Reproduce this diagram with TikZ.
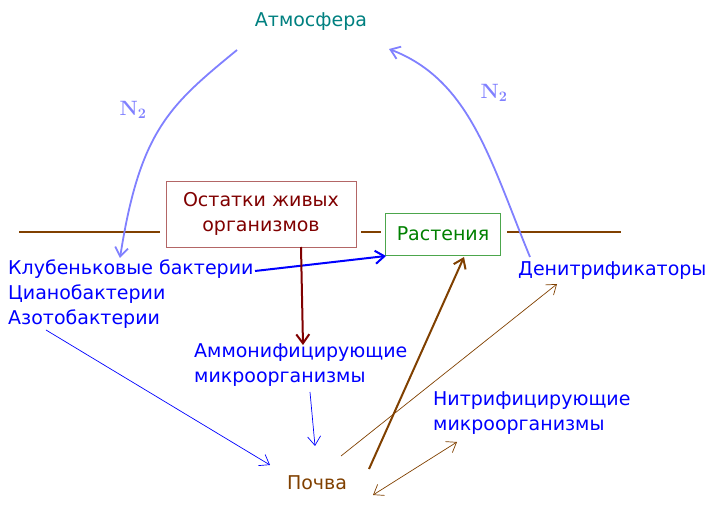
\documentclass[tikz,border=0pt]{standalone}
\usepackage[no-math]{fontspec}
\setmainfont{DejaVu Sans}
\usetikzlibrary{arrows.meta,positioning}
\definecolor{brn}{HTML}{804000}
\definecolor{drd}{HTML}{800000}
\definecolor{lbl}{HTML}{8080FF}
\definecolor{tea}{HTML}{008080}
\definecolor{grn}{HTML}{008000}
\begin{document}
\begin{tikzpicture}[x=1pt, y=-1pt, every node/.style={font=\fontsize{19}{25}\selectfont}, >={Straight Barb[length=9pt,width=13pt]}]
  \useasboundingbox (0,0) rectangle (713,521);

  % Labels
  \node (atm) [text=tea] at (311,22) {Атмосфера};
  \node (rem) [draw=drd!60, text=drd, align=center, minimum width=190pt, minimum height=66pt, inner sep=2pt] at (261,214) {Остатки живых\\организмов};
  \node (pl) [draw=grn!70, text=grn, minimum width=115pt, minimum height=42pt, inner sep=2pt] at (443,234) {Растения};
  \node (bact) [text=blue, align=left, anchor=north west, inner sep=0pt] at (8,260) {Клубеньковые бактерии\\Цианобактерии\\Азотобактерии};
  \node (den) [text=blue, anchor=west, inner sep=0pt] at (518,271) {Денитрификаторы};
  \node (amm) [text=blue, align=left, anchor=north west, inner sep=0pt] at (194,343) {Аммонифицирующие\\микроорганизмы};
  \node (nit) [text=blue, align=left, anchor=north west, inner sep=0pt] at (433,391) {Нитрифицирующие\\микроорганизмы};
  \node (soil) [text=brn] at (317,483) {Почва};
  \node (n2a) [text=lbl, font=\fontsize{22}{26}\selectfont] at (133,110) {$\mathbf{N_2}$};
  \node (n2b) [text=lbl, font=\fontsize{22}{26}\selectfont] at (494,93) {$\mathbf{N_2}$};

  % Ground line
  \draw[brn, line width=1.2pt] (19,232) -- (160,232);
  \draw[brn, line width=1.2pt] (361,232) -- (381,232);
  \draw[brn, line width=1.2pt] (507,232) -- (621,232);

  % Arrows
  \draw[->, lbl, line width=1.8pt] (237,50) .. controls (170,105) and (140,130) .. (120,258);
  \draw[->, lbl, line width=1.8pt] (530,257) .. controls (490,160) and (470,80) .. (389,49);
  \draw[->, blue, line width=2pt] (255,271) -- (386,256);
  \draw[->, drd, line width=2pt] (301,247) -- (303,345);
  \draw[->, blue, line width=0.7pt] (310,392) -- (315,446);
  \draw[->, blue, line width=0.7pt] (46,330) -- (270,465);
  \draw[->, brn, line width=0.7pt] (341,456) -- (557,284);
  \draw[->, brn, line width=2pt] (369,469) -- (464,257);
  \draw[<->, brn, line width=0.7pt] (373,495) -- (457,442);

\end{tikzpicture}
\end{document}
